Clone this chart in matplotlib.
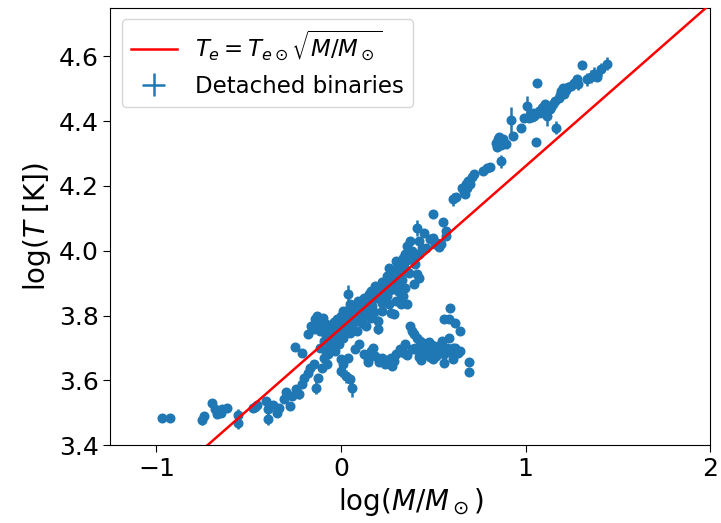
import numpy as np
import matplotlib
matplotlib.use("Agg")
import matplotlib.pyplot as plt

# ---- data (log M/Msun, log T, error in log T) ----
# low-mass tail
tail_m = [-0.968, -0.928, -0.752, -0.744, -0.700, -0.682, -0.670, -0.645, -0.620, -0.650,
          -0.558, -0.558, -0.476, -0.457, -0.466, -0.404, -0.397, -0.397, -0.367, -0.347,
          -0.335, -0.310, -0.298, -0.278, -0.268, -0.243, -0.228, -0.211, -0.199]
tail_t = [3.484, 3.484, 3.476, 3.490, 3.531, 3.510, 3.495, 3.510, 3.513, 3.500,
          3.492, 3.469, 3.513, 3.524, 3.518, 3.536, 3.510, 3.482, 3.524, 3.498,
          3.513, 3.541, 3.565, 3.520, 3.551, 3.572, 3.557, 3.590, 3.608]
tail_e = [0.006, 0.006, 0.015, 0.012, 0.008, 0.010, 0.008, 0.008, 0.008, 0.008,
          0.020, 0.020, 0.008, 0.008, 0.008, 0.008, 0.025, 0.020, 0.010, 0.010,
          0.010, 0.008, 0.010, 0.008, 0.010, 0.010, 0.015, 0.010, 0.010]

# main sequence around the Sun
core_m = [-0.248, -0.211, -0.179, -0.166, -0.149, -0.134, -0.124, -0.104, -0.094, -0.084,
          -0.060, -0.045, -0.074, -0.112, -0.069, -0.030, -0.012, -0.179, -0.149, -0.129,
          -0.099, -0.079, -0.161, -0.112, -0.069, -0.050, -0.037, 0.000, -0.012, 0.012,
          0.037, 0.050, 0.062, 0.074, 0.094, 0.112, 0.124, 0.136, 0.149, 0.161,
          0.174, 0.186, 0.199, 0.211, 0.223, 0.236, 0.248, 0.261, 0.273, 0.285,
          0.298, 0.310, 0.323, 0.335, 0.347, 0.360, 0.372, 0.385, 0.397, 0.409,
          0.422, 0.447, 0.459, 0.409, 0.397, 0.422, 0.347, 0.323, 0.298, 0.310,
          0.335, 0.261, 0.273, 0.223, 0.199, 0.161, 0.136, 0.112, 0.087, 0.050,
          0.025, 0.012, 0.062, 0.323, 0.360, 0.199, 0.285,
          -0.020, 0.030, 0.060, 0.080, 0.100, 0.130, 0.150, 0.170, 0.190, 0.210,
          0.240, 0.260, 0.280, 0.300, 0.320, 0.340, 0.360, 0.380, 0.040, -0.030,
          0.000, 0.020, 0.070, 0.110, 0.140, 0.180, 0.220, 0.250, 0.290, 0.310,
          0.330, 0.370, 0.400, 0.420, 0.440, -0.080, -0.060, -0.040, -0.020, -0.090,
          -0.070,
          -0.050, -0.030, -0.010, 0.010, 0.030, 0.050, 0.070, 0.090, 0.110, 0.130,
          0.150, 0.170, 0.190, 0.210, 0.230, 0.250, 0.270, 0.290, 0.310, 0.330,
          0.020, 0.045, 0.085, 0.105, 0.125, 0.165, 0.185, 0.205, 0.235, 0.265,
          0.140, 0.160, 0.100, 0.080, 0.060, -0.100, -0.120, -0.140, -0.060, -0.020]
core_t = [3.703, 3.685, 3.623, 3.639, 3.649, 3.577, 3.608, 3.639, 3.668, 3.690,
          3.706, 3.726, 3.649, 3.701, 3.680, 3.690, 3.711, 3.742, 3.757, 3.799,
          3.791, 3.775, 3.768, 3.752, 3.757, 3.742, 3.768, 3.799, 3.783, 3.814,
          3.865, 3.835, 3.804, 3.819, 3.845, 3.829, 3.855, 3.840, 3.866, 3.876,
          3.850, 3.891, 3.866, 3.886, 3.902, 3.876, 3.922, 3.948, 3.907, 3.938,
          3.968, 3.958, 3.948, 3.979, 3.989, 4.015, 4.030, 4.000, 3.979, 4.071,
          4.030, 4.056, 4.010, 3.927, 3.896, 3.917, 3.886, 3.855, 3.845, 3.876,
          3.860, 3.835, 3.809, 3.814, 3.783, 3.793, 3.768, 3.778, 3.752, 3.747,
          3.763, 3.732, 3.773, 3.835, 3.835, 3.757, 3.804,
          3.760, 3.790, 3.800, 3.830, 3.810, 3.820, 3.840, 3.830, 3.860, 3.850,
          3.890, 3.900, 3.920, 3.930, 3.920, 3.950, 3.970, 3.990, 3.760, 3.730,
          3.750, 3.780, 3.780, 3.800, 3.800, 3.810, 3.840, 3.860, 3.890, 3.900,
          3.910, 3.930, 3.960, 3.990, 4.010, 3.740, 3.760, 3.780, 3.790, 3.720,
          3.720,
          3.770, 3.775, 3.790, 3.795, 3.800, 3.815, 3.825, 3.820, 3.840, 3.850,
          3.855, 3.870, 3.880, 3.875, 3.895, 3.905, 3.915, 3.935, 3.945, 3.935,
          3.805, 3.820, 3.800, 3.830, 3.845, 3.845, 3.860, 3.860, 3.870, 3.880,
          3.810, 3.820, 3.790, 3.800, 3.785, 3.760, 3.780, 3.790, 3.700, 3.740]
core_e = [0.008, 0.008, 0.010, 0.010, 0.010, 0.020, 0.010, 0.010, 0.010, 0.010,
          0.010, 0.010, 0.010, 0.008, 0.010, 0.010, 0.010, 0.008, 0.008, 0.012,
          0.008, 0.008, 0.008, 0.008, 0.008, 0.008, 0.008, 0.010, 0.008, 0.010,
          0.030, 0.010, 0.010, 0.010, 0.010, 0.010, 0.010, 0.010, 0.010, 0.010,
          0.010, 0.010, 0.010, 0.010, 0.010, 0.010, 0.010, 0.010, 0.010, 0.010,
          0.010, 0.010, 0.010, 0.010, 0.010, 0.010, 0.010, 0.010, 0.010, 0.025,
          0.010, 0.010, 0.010, 0.010, 0.010, 0.010, 0.010, 0.010, 0.010, 0.010,
          0.010, 0.010, 0.010, 0.010, 0.015, 0.010, 0.010, 0.010, 0.010, 0.010,
          0.010, 0.010, 0.010, 0.010, 0.010, 0.015, 0.010,
          0.008, 0.008, 0.008, 0.008, 0.008, 0.008, 0.008, 0.008, 0.008, 0.008,
          0.008, 0.008, 0.008, 0.008, 0.008, 0.008, 0.008, 0.008, 0.008, 0.008,
          0.008, 0.008, 0.008, 0.008, 0.008, 0.008, 0.008, 0.008, 0.008, 0.008,
          0.008, 0.008, 0.008, 0.008, 0.008, 0.008, 0.008, 0.008, 0.008, 0.008,
          0.008,
          0.008, 0.008, 0.008, 0.008, 0.008, 0.008, 0.008, 0.008, 0.008, 0.008,
          0.008, 0.008, 0.008, 0.008, 0.008, 0.008, 0.008, 0.008, 0.008, 0.008,
          0.008, 0.008, 0.008, 0.008, 0.008, 0.008, 0.008, 0.008, 0.008, 0.008,
          0.008, 0.008, 0.008, 0.008, 0.008, 0.008, 0.008, 0.008, 0.008, 0.008]

# upper main sequence
upper_m = [0.509, 0.533, 0.496, 0.553, 0.566, 0.571, 0.608, 0.625, 0.658, 0.675,
           0.690, 0.670, 0.707, 0.720, 0.769, 0.789, 0.806, 0.864, 0.839, 0.856,
           0.873, 0.893, 0.844, 0.923, 0.933, 0.975, 0.993, 1.005, 1.017, 1.035,
           1.047, 1.055, 1.062, 1.072, 1.087, 1.104, 1.117, 1.134, 1.146, 1.161,
           1.166, 1.179, 1.191, 1.203, 1.221, 1.246, 1.261, 1.278, 1.285, 1.303,
           1.335, 1.352, 1.370, 1.385, 1.409, 1.439,
           0.480, 0.500, 0.520, 0.540, 0.665, 0.680, 0.700, 0.850, 0.865, 0.880,
           1.025, 1.040, 1.080, 1.095, 1.110, 1.140, 1.185, 1.210, 1.230]
upper_t = [4.020, 4.012, 4.113, 4.089, 4.061, 4.046, 4.159, 4.166, 4.195, 4.207,
           4.216, 4.176, 4.228, 4.236, 4.247, 4.254, 4.260, 4.277, 4.334, 4.350,
           4.339, 4.331, 4.319, 4.403, 4.355, 4.378, 4.411, 4.447, 4.411, 4.413,
           4.416, 4.336, 4.519, 4.432, 4.442, 4.453, 4.416, 4.437, 4.453, 4.463,
           4.380, 4.473, 4.492, 4.502, 4.496, 4.509, 4.519, 4.530, 4.516, 4.574,
           4.530, 4.537, 4.547, 4.537, 4.561, 4.578,
           4.035, 4.040, 4.025, 4.020, 4.185, 4.195, 4.205, 4.345, 4.325, 4.345,
           4.420, 4.425, 4.425, 4.445, 4.440, 4.445, 4.480, 4.485, 4.505]
upper_e = [0.008, 0.008, 0.006, 0.008, 0.010, 0.008, 0.020, 0.010, 0.010, 0.010,
           0.010, 0.010, 0.010, 0.010, 0.008, 0.008, 0.008, 0.020, 0.020, 0.015,
           0.010, 0.010, 0.010, 0.040, 0.010, 0.008, 0.010, 0.030, 0.010, 0.010,
           0.010, 0.006, 0.006, 0.010, 0.010, 0.010, 0.030, 0.010, 0.010, 0.010,
           0.020, 0.010, 0.010, 0.010, 0.010, 0.010, 0.010, 0.010, 0.020, 0.006,
           0.020, 0.020, 0.020, 0.010, 0.020, 0.020,
           0.010, 0.010, 0.010, 0.010, 0.010, 0.010, 0.010, 0.015, 0.010, 0.010,
           0.010, 0.010, 0.010, 0.010, 0.010, 0.010, 0.010, 0.010, 0.010]

# cool stars below the sequence (subgiants / giants)
giant_m = [0.000, 0.012, 0.025, 0.050, 0.062, 0.000, 0.037, 0.074, 0.099, 0.124,
           0.144, 0.161, 0.174, 0.186, 0.203, 0.223, 0.236, 0.261, 0.273, 0.278,
           0.298, 0.318, 0.342, 0.360, 0.372, 0.385, 0.397, 0.409, 0.427, 0.442,
           0.459, 0.476, 0.491, 0.509, 0.526, 0.541, 0.558, 0.576, 0.546, 0.583,
           0.620, 0.633, 0.422, 0.452, 0.484, 0.516, 0.496, 0.434, 0.347, 0.385,
           0.558, 0.583, 0.591, 0.620, 0.645, 0.608, 0.558, 0.645, 0.695, 0.695,
           0.400, 0.415, 0.440, 0.470, 0.500, 0.530, 0.560, 0.590, 0.605, 0.145,
           0.210, 0.250, 0.285]
giant_t = [3.629, 3.649, 3.613, 3.603, 3.577, 3.665, 3.670, 3.696, 3.711, 3.680,
           3.665, 3.690, 3.699, 3.675, 3.657, 3.670, 3.649, 3.654, 3.670, 3.644,
           3.680, 3.696, 3.685, 3.677, 3.768, 3.752, 3.742, 3.730, 3.721, 3.716,
           3.711, 3.719, 3.709, 3.699, 3.706, 3.696, 3.690, 3.701, 3.721, 3.730,
           3.701, 3.685, 3.672, 3.678, 3.672, 3.675, 3.665, 3.662, 3.711, 3.696,
           3.788, 3.788, 3.824, 3.778, 3.752, 3.665, 3.654, 3.690, 3.656, 3.626,
           3.700, 3.690, 3.700, 3.695, 3.688, 3.685, 3.680, 3.688, 3.700, 3.655,
           3.665, 3.662, 3.660]
giant_e = [0.020, 0.010, 0.020, 0.015, 0.030, 0.010, 0.010, 0.008, 0.008, 0.010,
           0.010, 0.008, 0.008, 0.010, 0.010, 0.010, 0.010, 0.008, 0.008, 0.008,
           0.008, 0.008, 0.008, 0.008, 0.008, 0.008, 0.008, 0.008, 0.008, 0.008,
           0.008, 0.008, 0.008, 0.008, 0.008, 0.008, 0.008, 0.008, 0.008, 0.008,
           0.008, 0.008, 0.008, 0.008, 0.008, 0.008, 0.008, 0.008, 0.008, 0.008,
           0.006, 0.006, 0.006, 0.006, 0.006, 0.006, 0.006, 0.006, 0.006, 0.006,
           0.008, 0.008, 0.008, 0.008, 0.008, 0.008, 0.008, 0.008, 0.008, 0.008,
           0.008, 0.008, 0.008]

log_teff_sun = 3.7613
line_x = [-1.25, 2.0]

x_ticks = [-1, 0, 1, 2]
y_ticks = [3.4, 3.6, 3.8, 4.0, 4.2, 4.4, 4.6]

# ---- plot ----
logM = np.array(tail_m + core_m + upper_m + giant_m)
logT = np.array(tail_t + core_t + upper_t + giant_t)
errT = np.array(tail_e + core_e + upper_e + giant_e)

fig = plt.figure(figsize=(7.21, 5.23), dpi=100)
ax = fig.add_axes([0.153, 0.149, 0.832, 0.836])

lx = np.array(line_x)
ax.plot(lx, log_teff_sun + 0.5 * lx, color='red', lw=1.8,
        label=r'$T_e = T_{e\odot}\sqrt{M/M_\odot}$', zorder=3)
ax.errorbar(logM, logT, yerr=errT, xerr=0.008, fmt='none', ecolor='#1f77b4',
            elinewidth=1.8, label='Detached binaries', zorder=2)
ax.plot(logM, logT, 'o', color='#1f77b4', ms=6.2, mec='#1f77b4', zorder=2)

ax.set_xlim(-1.25, 2.0)
ax.set_ylim(3.4, 4.75)
ax.set_xticks(x_ticks)
ax.set_yticks(y_ticks)
ax.set_xticklabels(['\u22121', '0', '1', '2'])
ax.set_yticklabels([f'{v:.1f}' for v in y_ticks])
ax.tick_params(labelsize=18, length=5)
ax.set_xlabel(r'log($M/M_\odot$)', fontsize=20)
ax.set_ylabel(r'log($T$ [K])', fontsize=20)
ax.legend(loc='upper left', fontsize=16.5, framealpha=0.8)

fig.savefig('out.png', dpi=100)
